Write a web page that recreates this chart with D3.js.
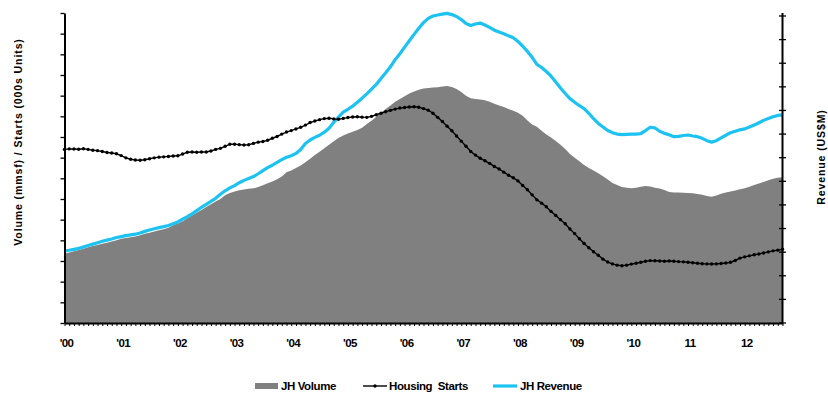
<!DOCTYPE html>
<html>
<head>
<meta charset="utf-8">
<script src="https://cdn.jsdelivr.net/npm/d3@7"></script>
<style>
  html, body { margin: 0; padding: 0; background: #fff; }
  svg { display: block; }
  text { font-family: "Liberation Sans", Arial, sans-serif; font-weight: bold; fill: #000; }
</style>
</head>
<body>
<svg id="chart" width="828" height="394"></svg>
<script>
// Monthly series, Jan 2000 – Sep 2012 (153 months)
const monthCount = 153;

// JH Volume (mmsf), left axis
const jhVolume = [
  672, 683, 695, 706, 719, 732, 745, 756, 767, 777, 789, 801,
  815, 823, 830, 836, 850, 864, 874, 885, 897, 907, 922, 945,
  962, 985, 1013, 1040, 1068, 1093, 1122, 1150, 1176, 1200, 1236, 1258,
  1272, 1285, 1292, 1298, 1303, 1315, 1332, 1352, 1370, 1392, 1418, 1460,
  1475, 1500, 1525, 1555, 1590, 1625, 1658, 1690, 1725, 1760, 1790, 1815,
  1835, 1850, 1867, 1890, 1925, 1958, 1995, 2035, 2070, 2105, 2140, 2168,
  2195, 2220, 2240, 2258, 2270, 2275, 2280, 2282, 2288, 2293, 2285, 2265,
  2235, 2200, 2175, 2168, 2162, 2155, 2140, 2122, 2105, 2090, 2072, 2055,
  2035, 2005, 1960, 1920, 1900, 1860, 1825, 1795, 1762, 1725, 1685, 1635,
  1600, 1565, 1530, 1500, 1475, 1450, 1420, 1388, 1355, 1335, 1315, 1308,
  1304, 1308, 1318, 1325, 1322, 1310, 1302, 1288, 1268, 1262, 1262, 1260,
  1258, 1255, 1248, 1240, 1228, 1222, 1235, 1250, 1262, 1272, 1282, 1295,
  1305, 1318, 1335, 1350, 1365, 1382, 1395, 1405, 1410
];

// Housing starts (000s units), left axis
const housingStarts = [
  1680, 1685, 1684, 1682, 1686, 1680, 1672, 1668, 1660, 1650, 1645, 1638,
  1620, 1598, 1585, 1578, 1575, 1580, 1590, 1598, 1605, 1608, 1612, 1616,
  1618, 1635, 1652, 1655, 1653, 1655, 1655, 1665, 1680, 1690, 1710, 1730,
  1730, 1726, 1722, 1725, 1738, 1750, 1756, 1768, 1788, 1805, 1828, 1848,
  1862, 1878, 1894, 1915, 1940, 1955, 1968, 1978, 1982, 1975, 1972, 1980,
  1988, 1994, 1996, 1992, 1990, 2000, 2015, 2030, 2045, 2058, 2070, 2080,
  2085, 2090, 2093, 2088, 2075, 2060, 2030, 1990, 1950, 1905, 1860, 1810,
  1760, 1710, 1660, 1625, 1595, 1570, 1545, 1515, 1490, 1460, 1430, 1405,
  1375, 1330, 1290, 1240, 1192, 1160, 1125, 1080, 1040, 1000, 960, 910,
  865, 815, 770, 728, 690, 655, 618, 590, 572, 560, 554, 560,
  570, 578, 588, 598, 604, 603, 600, 598, 600, 598, 594, 592,
  588, 583, 578, 574, 572, 571, 572, 576, 580, 588, 605, 628,
  640, 650, 660, 668, 678, 688, 698, 705, 713
];

// JH Revenue (US$M), right axis
const jhRevenue = [
  305, 308, 312, 316, 322, 328, 334, 340, 346, 351, 356, 362,
  366, 370, 373, 376, 381, 388, 394, 399, 404, 408, 413, 420,
  428, 440, 450, 462, 476, 490, 502, 515, 528, 545, 560, 572,
  582, 594, 604, 612, 620, 632, 645, 658, 668, 680, 692, 702,
  708, 718, 735, 760, 775, 786, 795, 808, 825, 850, 872, 893,
  905, 918, 935, 952, 970, 990, 1010, 1035, 1060, 1085, 1115, 1140,
  1168, 1195, 1222, 1248, 1272, 1290, 1300, 1304, 1308, 1311, 1306, 1298,
  1285, 1268, 1260, 1266, 1270, 1262, 1252, 1240, 1232, 1225, 1216, 1208,
  1192, 1172, 1150, 1125, 1095, 1082, 1065, 1045, 1020, 995, 972, 950,
  935, 920, 908, 888, 865, 845, 830, 815, 806, 800, 798, 799,
  800, 800, 802, 815, 829, 826, 812, 803, 797, 789, 790, 794,
  796, 792, 789, 782, 772, 766, 772, 784, 795, 806, 812, 818,
  822, 830, 838, 848, 858, 866, 873, 879, 881
];

// Year tick labels, one per January
const yearLabels = ["'00", "'01", "'02", "'03", "'04", "'05", "'06", "'07", "'08", "'09", "'10", "11", "12"];

const leftMax = 3000, leftStep = 200;
const rightMax = 1300, rightStep = 100;

const svg = d3.select("#chart");
const plot = { left: 64.5, right: 782.5, top: 13, bottom: 323 };

const months = d3.range(monthCount);
const x = d3.scaleLinear().domain([0, monthCount - 1]).range([plot.left, plot.right]);
const yL = d3.scaleLinear().domain([0, leftMax]).range([plot.bottom, plot.top]);
const yR = d3.scaleLinear().domain([0, rightMax]).range([plot.bottom, 16]);

// Volume area
svg.append("path")
  .datum(months)
  .attr("d", d3.area().x(i => x(i)).y0(yL(0)).y1(i => yL(jhVolume[i])))
  .attr("fill", "#808080");

// Revenue line
svg.append("path")
  .datum(months)
  .attr("d", d3.line().x(i => x(i)).y(i => yR(jhRevenue[i])))
  .attr("fill", "none")
  .attr("stroke", "#1cc3f2")
  .attr("stroke-width", 3.2)
  .attr("stroke-linejoin", "round");

// Housing starts line with markers
svg.append("path")
  .datum(months)
  .attr("d", d3.line().x(i => x(i)).y(i => yL(housingStarts[i])))
  .attr("fill", "none")
  .attr("stroke", "#000")
  .attr("stroke-width", 1.4);
svg.append("g").selectAll("circle")
  .data(months)
  .join("circle")
  .attr("cx", i => x(i))
  .attr("cy", i => yL(housingStarts[i]))
  .attr("r", 1.7)
  .attr("fill", "#000");

// Left axis
const gl = svg.append("g").attr("transform", `translate(${plot.left},0)`);
gl.call(d3.axisLeft(yL)
  .tickValues(d3.range(0, leftMax + 1, leftStep))
  .tickSize(4).tickSizeOuter(0).tickFormat(""));
gl.select(".domain").attr("stroke-width", 2);
gl.selectAll(".tick line").attr("stroke-width", 1.3);

// Right axis (ticks cross the line)
const gr = svg.append("g").attr("transform", `translate(${plot.right},0)`);
gr.append("line")
  .attr("y1", plot.top).attr("y2", plot.bottom)
  .attr("stroke", "#000").attr("stroke-width", 2);
gr.selectAll("line.rt")
  .data(d3.range(0, rightMax + 1, rightStep))
  .join("line")
  .attr("class", "rt")
  .attr("x1", -3.5).attr("x2", 3.5)
  .attr("y1", d => yR(d)).attr("y2", d => yR(d))
  .attr("stroke", "#000").attr("stroke-width", 1.3);

// Bottom axis: monthly minor ticks, year labels
const gb = svg.append("g").attr("transform", `translate(0,${plot.bottom})`);
gb.call(d3.axisBottom(x)
  .tickValues(months)
  .tickSize(3).tickSizeOuter(0).tickFormat(""));
gb.select(".domain").attr("stroke-width", 2);
gb.selectAll(".tick line").attr("stroke-width", 1);
gb.selectAll("text.yr")
  .data(yearLabels)
  .join("text")
  .attr("class", "yr")
  .attr("x", (d, k) => x(k * 12) + 2)
  .attr("y", 24)
  .attr("text-anchor", "middle")
  .style("font-size", "11.5px")
  .style("letter-spacing", "-0.6px")
  .text(d => d);

// Axis titles
svg.append("text")
  .attr("transform", "translate(22,142) rotate(-90)")
  .attr("text-anchor", "middle")
  .style("font-size", "10.5px")
  .style("letter-spacing", "0.9px")
  .text("Volume (mmsf)  /  Starts (000s Units)");
svg.append("text")
  .attr("transform", "translate(825,157) rotate(-90)")
  .attr("text-anchor", "middle")
  .style("font-size", "10.5px")
  .style("letter-spacing", "0.9px")
  .text("Revenue (US$M)");

// Legend
const lg = svg.append("g").attr("transform", "translate(0,386)");
const legendFont = "11.5px";
lg.append("rect").attr("x", 255).attr("y", -3).attr("width", 23).attr("height", 6).attr("fill", "#808080");
lg.append("text").attr("x", 281).attr("y", 4).style("font-size", legendFont).style("letter-spacing", "-0.4px").text("JH Volume");
lg.append("line").attr("x1", 363).attr("x2", 387).attr("stroke", "#000").attr("stroke-width", 1.4);
lg.append("circle").attr("cx", 375).attr("cy", 0).attr("r", 1.7).attr("fill", "#000");
lg.append("text").attr("x", 389).attr("y", 4).style("font-size", legendFont).style("letter-spacing", "-0.4px").style("white-space", "pre").text("Housing  Starts");
lg.append("line").attr("x1", 493).attr("x2", 517).attr("stroke", "#1cc3f2").attr("stroke-width", 3.2);
lg.append("text").attr("x", 520).attr("y", 4).style("font-size", legendFont).style("letter-spacing", "-0.4px").text("JH Revenue");
</script>
</body>
</html>
